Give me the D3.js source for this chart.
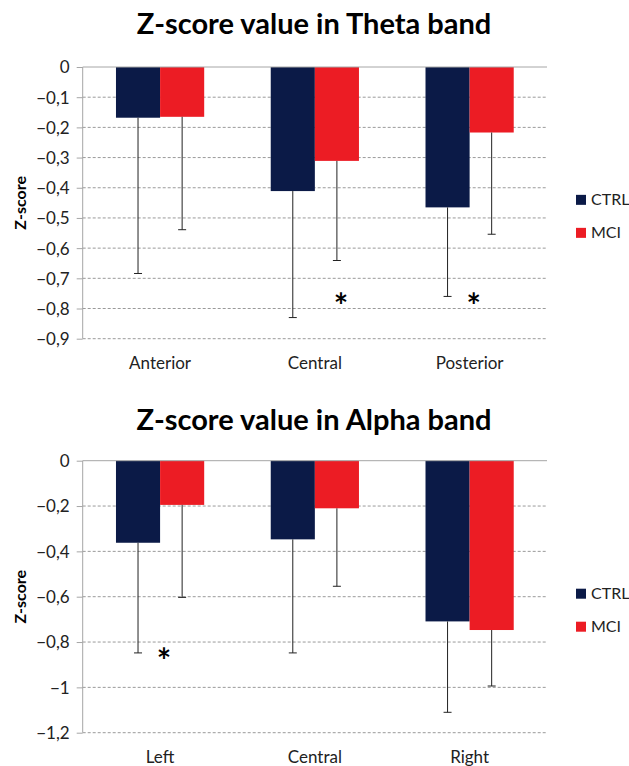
<!DOCTYPE html>
<html>
<head>
<meta charset="utf-8">
<script src="https://cdnjs.cloudflare.com/ajax/libs/d3/7.8.5/d3.min.js"></script>
<style>
  body { margin: 0; background: #fff; }
  text { font-family: Lato, "Open Sans", sans-serif; }
</style>
</head>
<body>
<script>
// series names and colours
var series = ["CTRL", "MCI"];
var colors = ["#0b1a47", "#ec1c24"];

// theta band
var thetaCats = ["Anterior", "Central", "Posterior"];
var thetaCtrl = [-0.168, -0.411, -0.465];
var thetaMci = [-0.165, -0.311, -0.217];
var thetaCtrlErr = [-0.684, -0.830, -0.760];
var thetaMciErr = [-0.539, -0.641, -0.554];
var thetaTicks = [0, -0.1, -0.2, -0.3, -0.4, -0.5, -0.6, -0.7, -0.8, -0.9];
var thetaStars = [{cat: "Central", value: -0.77, series: "MCI"}, {cat: "Posterior", value: -0.77}];

// alpha band
var alphaCats = ["Left", "Central", "Right"];
var alphaCtrl = [-0.362, -0.347, -0.709];
var alphaMci = [-0.195, -0.210, -0.747];
var alphaCtrlErr = [-0.848, -0.848, -1.110];
var alphaMciErr = [-0.603, -0.554, -0.994];
var alphaTicks = [0, -0.2, -0.4, -0.6, -0.8, -1, -1.2];
var alphaStars = [{cat: "Left", value: -0.853}];

var width = 629, height = 766;
var fmt = d3.formatLocale({decimal: ",", thousands: ".", grouping: [3], currency: ["", ""]}).format("");

var svg = d3.select("body").append("svg")
    .attr("width", width)
    .attr("height", height);

function drawChart(opt) {
    var g = svg.append("g");
    var left = 82.7, right = 547;

    var x = d3.scaleBand()
        .domain(opt.cats)
        .range([left, right])
        .paddingInner(0.43)
        .paddingOuter(0.215);
    var xs = d3.scaleBand().domain(series).range([0, x.bandwidth()]);

    var y = d3.scaleLinear()
        .domain([d3.min(opt.ticks), 0])
        .range([opt.bottom, opt.top]);

    // title
    g.append("text")
        .attr("x", 314)
        .attr("y", opt.titleY)
        .attr("text-anchor", "middle")
        .style("font-size", "29px")
        .style("font-weight", "bold")
        .text(opt.title);

    // dashed grid
    g.selectAll("line.grid").data(opt.ticks.filter(function(t) { return t != 0; }))
        .enter().append("line")
        .attr("class", "grid")
        .attr("x1", left).attr("x2", right)
        .attr("y1", function(d) { return y(d); })
        .attr("y2", function(d) { return y(d); })
        .attr("stroke", "#9a9a9a")
        .attr("stroke-dasharray", "3,2");

    // y axis
    var yAxis = d3.axisLeft(y).tickValues(opt.ticks).tickFormat(fmt).tickSize(6).tickPadding(7);
    var ya = g.append("g").attr("transform", "translate(" + left + ",0)").call(yAxis);
    ya.select(".domain").attr("stroke", "#a6a6a6").attr("d", "M0," + y(0) + "V" + opt.bottom);
    ya.selectAll(".tick line").attr("stroke", "#a6a6a6");
    ya.selectAll(".tick text").style("font-size", "17px").attr("fill", "#222").attr("dy", "0.35em");

    // y title
    g.append("text")
        .attr("transform", "translate(26," + ((opt.top + opt.bottom) / 2) + ") rotate(-90)")
        .attr("text-anchor", "middle")
        .style("font-size", "16px")
        .style("font-weight", "bold")
        .text("Z-score");

    // bars
    var rows = opt.cats.map(function(c, i) {
        return {cat: c, vals: [opt.ctrl[i], opt.mci[i]], errs: [opt.ctrlErr[i], opt.mciErr[i]]};
    });
    var grp = g.selectAll("g.cat").data(rows).enter().append("g")
        .attr("class", "cat")
        .attr("transform", function(d) { return "translate(" + x(d.cat) + ",0)"; });

    grp.selectAll("rect").data(function(d) {
        return d.vals.map(function(v, j) { return {s: series[j], v: v, c: colors[j]}; });
    }).enter().append("rect")
        .attr("x", function(d) { return xs(d.s); })
        .attr("width", xs.bandwidth())
        .attr("y", y(0))
        .attr("height", function(d) { return y(d.v) - y(0); })
        .attr("fill", function(d) { return d.c; });

    // error bars
    var eb = grp.selectAll("g.err").data(function(d) {
        return d.errs.map(function(e, j) { return {s: series[j], v: d.vals[j], e: e}; });
    }).enter().append("g").attr("class", "err");
    eb.append("line")
        .attr("x1", function(d) { return xs(d.s) + xs.bandwidth() / 2; })
        .attr("x2", function(d) { return xs(d.s) + xs.bandwidth() / 2; })
        .attr("y1", function(d) { return y(d.v); })
        .attr("y2", function(d) { return y(d.e); })
        .attr("stroke", "#222");
    eb.append("line")
        .attr("x1", function(d) { return xs(d.s) + xs.bandwidth() / 2 - 4; })
        .attr("x2", function(d) { return xs(d.s) + xs.bandwidth() / 2 + 4; })
        .attr("y1", function(d) { return y(d.e); })
        .attr("y2", function(d) { return y(d.e); })
        .attr("stroke", "#222");

    // zero line
    g.append("line")
        .attr("x1", left).attr("x2", right)
        .attr("y1", y(0)).attr("y2", y(0))
        .attr("stroke", "#a6a6a6");

    // category labels
    g.selectAll("text.cat").data(opt.cats).enter().append("text")
        .attr("class", "cat")
        .attr("x", function(d) { return x(d) + x.bandwidth() / 2; })
        .attr("y", opt.bottom + 30)
        .attr("text-anchor", "middle")
        .style("font-size", "17px")
        .attr("fill", "#222")
        .text(function(d) { return d; });

    // significance stars
    g.selectAll("text.star").data(opt.stars).enter().append("text")
        .attr("class", "star")
        .attr("x", function(d) {
            var cx = d.series ? xs(d.series) + xs.bandwidth() / 2 : x.bandwidth() / 2;
            return x(d.cat) + cx + 4;
        })
        .attr("y", function(d) { return y(d.value) + 19; })
        .attr("text-anchor", "middle")
        .style("font-size", "34px")
        .style("font-weight", "bold")
        .text("*");

    // legend
    var mid = (opt.top + opt.bottom) / 2 + 13;
    var lg = g.selectAll("g.leg").data(series).enter().append("g")
        .attr("class", "leg")
        .attr("transform", function(d, i) { return "translate(576," + (mid - 21 + i * 33) + ")"; });
    lg.append("rect")
        .attr("width", 10).attr("height", 10)
        .attr("fill", function(d, i) { return colors[i]; });
    lg.append("text")
        .attr("x", 15).attr("y", 10.5)
        .style("font-size", "16px")
        .attr("fill", "#222")
        .text(function(d) { return d; });
}

drawChart({
    title: "Z-score value in Theta band", titleY: 34, top: 67, bottom: 338.7,
    cats: thetaCats, ctrl: thetaCtrl, mci: thetaMci, ctrlErr: thetaCtrlErr, mciErr: thetaMciErr,
    ticks: thetaTicks, stars: thetaStars
});
drawChart({
    title: "Z-score value in Alpha band", titleY: 430, top: 460.7, bottom: 732.7,
    cats: alphaCats, ctrl: alphaCtrl, mci: alphaMci, ctrlErr: alphaCtrlErr, mciErr: alphaMciErr,
    ticks: alphaTicks, stars: alphaStars
});
</script>
</body>
</html>
